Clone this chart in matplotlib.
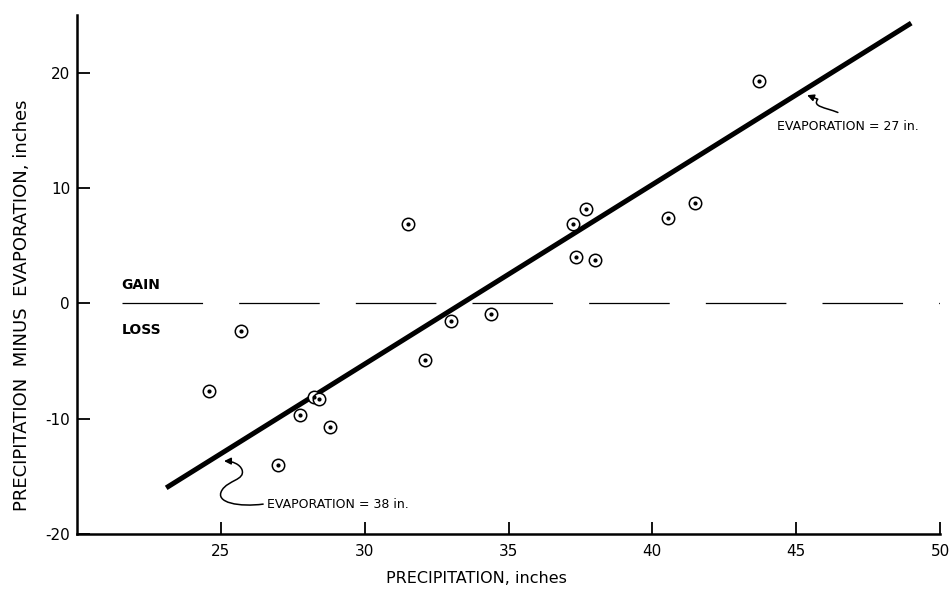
import matplotlib
matplotlib.use("Agg")
import matplotlib.pyplot as plt
from matplotlib.patches import FancyArrowPatch
from matplotlib.path import Path

plt.rcParams['font.family'] = ['DejaVu Sans']
plt.rcParams['axes.unicode_minus'] = False
plt.rcParams['lines.scale_dashes'] = False

# annual precipitation vs precipitation minus evaporation (inches)
precip = [24.6, 25.7, 27.0, 27.75, 28.25, 28.4, 28.8, 31.5, 32.1, 33.0,
          34.4, 37.25, 37.35, 37.7, 38.0, 40.55, 41.5, 43.7]
p_minus_e = [-7.6, -2.4, -14.0, -9.7, -8.1, -8.3, -10.7, 6.9, -4.9, -1.5,
             -0.9, 6.9, 4.0, 8.2, 3.8, 7.4, 8.7, 19.3]

# fitted relation, evaporation falling from 38 in. to 27 in.
fit_x = [23.1, 49.0]
fit_y = [-16.0, 24.3]

xticks = [25, 30, 35, 40, 45, 50]
yticks = [-20, -10, 0, 10, 20]

fig = plt.figure(figsize=(9.52, 5.89), dpi=100)
ax = fig.add_axes([0.0809, 0.0934, 0.9065, 0.8811])
ax.set_xlim(20, 50)
ax.set_ylim(-20, 25)

for side in ('top', 'right'):
    ax.spines[side].set_visible(False)
for side in ('left', 'bottom'):
    ax.spines[side].set_linewidth(1.8)

ax.set_xticks(xticks)
ax.set_yticks(yticks)
ax.tick_params(direction='in', length=9, width=1.3, labelsize=11, pad=5)
ax.tick_params(axis='x', pad=7)

# zero line between gain and loss
ax.plot([21.55, 50], [0, 0], color='black', lw=0.9, dashes=(58, 26), zorder=1)
ax.text(21.55, 1.0, "GAIN", fontsize=10, fontweight='bold', va='bottom', ha='left')
ax.text(21.55, -2.3, "LOSS", fontsize=10, fontweight='bold', va='center', ha='left')

ax.plot(fit_x, fit_y, color='black', lw=3.6, solid_capstyle='butt', zorder=2)

ax.scatter(precip, p_minus_e, s=80, facecolor='white', edgecolor='black',
           linewidth=1.1, zorder=3)
ax.scatter(precip, p_minus_e, s=4, color='black', zorder=4)

# curled pointers to the fitted line
low_path = Path(
    [(26.47, -17.41), (25.67, -17.67), (24.76, -17.32), (25.04, -16.20),
     (25.25, -15.33), (25.84, -15.33), (25.74, -14.46),
     (25.67, -13.94), (25.39, -13.68), (25.11, -13.68)],
    [Path.MOVETO, Path.CURVE4, Path.CURVE4, Path.CURVE4,
     Path.CURVE4, Path.CURVE4, Path.CURVE4,
     Path.CURVE4, Path.CURVE4, Path.CURVE4])
ax.add_patch(FancyArrowPatch(path=low_path, arrowstyle='-|>', mutation_scale=10,
                             color='black', lw=1.1, zorder=5))
ax.text(26.62, -17.41, "EVAPORATION = 38 in.", fontsize=9, va='center', ha='left')

high_path = Path(
    [(46.45, 16.55), (46.0, 17.0), (45.55, 17.05), (45.75, 17.7),
     (45.38, 18.05)],
    [Path.MOVETO, Path.CURVE4, Path.CURVE4, Path.CURVE4, Path.LINETO])
ax.add_patch(FancyArrowPatch(path=high_path, arrowstyle='-|>', mutation_scale=10,
                             color='black', lw=1.1, zorder=5))
ax.text(44.33, 15.37, "EVAPORATION = 27 in.", fontsize=9, va='center', ha='left')

ax.set_xlabel("PRECIPITATION, inches", fontsize=11.5, va='center')
ax.xaxis.set_label_coords(0.463, -0.085)
ax.set_ylabel("PRECIPITATION  MINUS  EVAPORATION, inches", fontsize=13, va='center')
ax.yaxis.set_label_coords(-0.064, 0.44)

fig.savefig("out.png", dpi=100)
